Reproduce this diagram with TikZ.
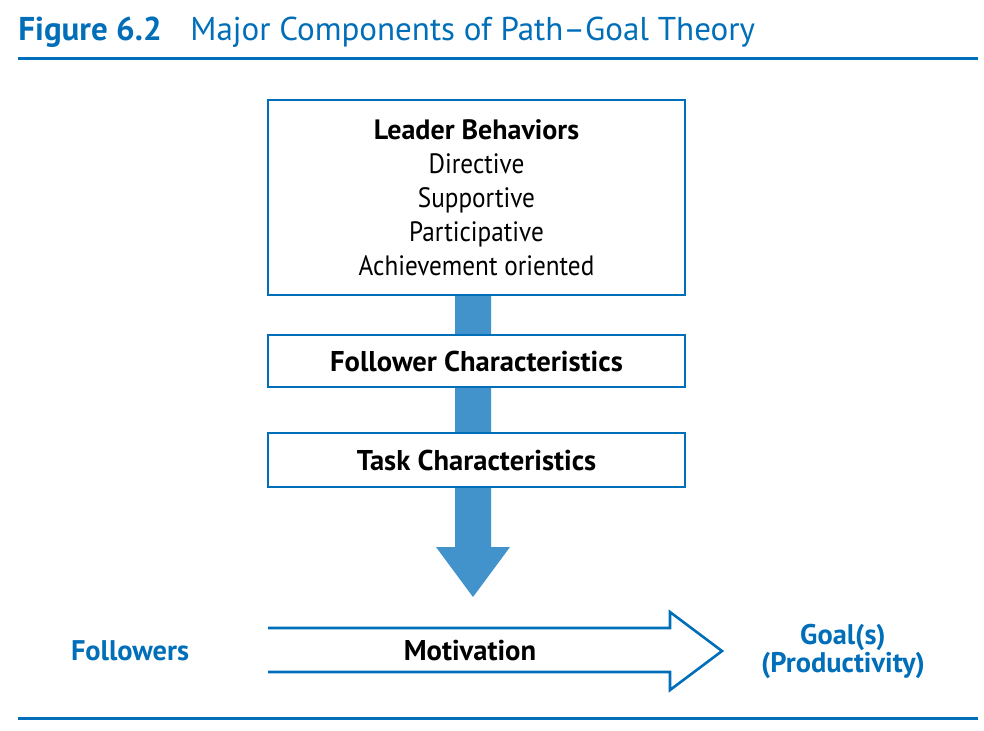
\documentclass[tikz,border=0pt]{standalone}
\usepackage{fontspec}
\setmainfont{PT Sans}[FakeStretch=0.9, BoldFeatures={FakeStretch=1.0}]
\newfontfamily\headfont{PT Sans}[Ligatures=TeX]
\usetikzlibrary{positioning}
\definecolor{figblue}{RGB}{0,110,184}
\definecolor{shaftblue}{RGB}{66,146,204}

\tikzset{
  compbox/.style={draw=figblue, line width=1.3pt, fill=white, minimum width=208.5pt, align=center, inner sep=0pt},
  bluetext/.style={text=figblue, font=\fontsize{14.2}{14}\selectfont\bfseries, align=center},
  rulebar/.style={draw=figblue, line width=1.5pt}
}

\begin{document}
\begin{tikzpicture}[x=0.5pt, y=-0.5pt]
\useasboundingbox (0,0) rectangle (984,730);
% heading
\node[anchor=base west, inner sep=0pt, text=figblue, font=\headfont\fontsize{16.5}{18}\selectfont\bfseries] (fig) at (18,40) {Figure 6.2};
\node[anchor=base west, inner sep=0pt, text=figblue, font=\headfont\fontsize{16.5}{18}\selectfont] (title) at (190,40) {Major Components of Path–Goal Theory};
\draw[rulebar] (18,58) -- (978,58);
\draw[rulebar] (18,718) -- (978,718);

% the blue shaft runs behind the boxes
\coordinate (shafttop) at (473,295);
\coordinate (headbase) at (473,547);
\coordinate (tip) at (473,597);
\fill[shaftblue] ([xshift=-9pt]shafttop) -- ([xshift=-9pt]headbase) -- ([xshift=-18.5pt]headbase)
  -- (tip) -- ([xshift=18.5pt]headbase) -- ([xshift=9pt]headbase) -- ([xshift=9pt]shafttop) -- cycle;

% boxes
\node[compbox, minimum height=97.5pt, font=\fontsize{14}{17}\selectfont] (leader) at (476.5,197.5)
  {{\bfseries Leader Behaviors}\\Directive\\Supportive\\Participative\\Achievement oriented};
\node[compbox, minimum height=26pt, font=\fontsize{14.3}{17}\selectfont\bfseries] (follower) at (476.5,361) {Follower Characteristics};
\node[compbox, minimum height=27pt, font=\fontsize{14.3}{17}\selectfont\bfseries] (task) at (476.5,460) {Task Characteristics};

% motivation arrow, open at the left
\draw[figblue, line width=1.3pt] (268,628) -- (670,628) -- (670,612) -- (722,651)
  -- (670,690) -- (670,672) -- (268,672);
\node[font=\fontsize{14.3}{17}\selectfont\bfseries] (motivation) at (470,651) {Motivation};
\node[bluetext] (followers) at (130,651) {Followers};
\node[bluetext] (goals) at (843,651) {Goal(s)\\(Productivity)};
\end{tikzpicture}
\end{document}
